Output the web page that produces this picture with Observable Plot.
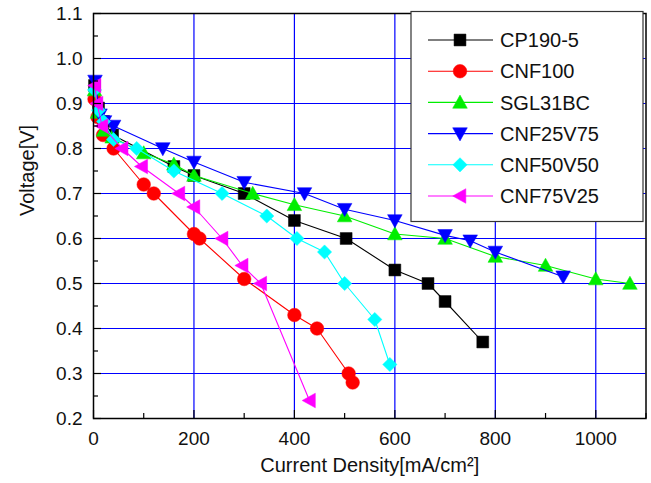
<!DOCTYPE html>
<html><head><meta charset="utf-8">
<script src="https://cdn.jsdelivr.net/npm/d3@7"></script>
<script src="https://cdn.jsdelivr.net/npm/@observablehq/plot@0.6"></script>
<style>body{margin:0;background:#fff}</style>
</head><body><div id="chart"></div>
<script>
// ---- data ----
const seriesNames = ["CP190-5", "CNF100", "SGL31BC", "CNF25V75", "CNF50V50", "CNF75V25"];
const seriesColors = ["#000000", "#ff0000", "#00ee00", "#0000ff", "#00ffff", "#ff00ff"];
const cp190X = [2, 10, 20, 38, 160, 200, 300, 400, 503, 600, 666, 700, 775];
const cp190Y = [0.94, 0.89, 0.86, 0.83, 0.76, 0.74, 0.70, 0.64, 0.60, 0.53, 0.50, 0.46, 0.37];
const cnf100X = [2, 8, 19, 40, 100, 120, 200, 211, 300, 400, 445, 508, 516];
const cnf100Y = [0.91, 0.87, 0.83, 0.80, 0.72, 0.70, 0.61, 0.60, 0.51, 0.43, 0.40, 0.30, 0.28];
const sglX = [2, 8, 20, 37, 100, 160, 200, 317, 400, 500, 600, 700, 800, 900, 1000, 1068];
const sglY = [0.93, 0.88, 0.84, 0.825, 0.79, 0.765, 0.74, 0.70, 0.675, 0.65, 0.61, 0.60, 0.56, 0.54, 0.51, 0.50];
const cnf25X = [3, 13, 22, 40, 138, 200, 300, 420, 500, 600, 700, 750, 800, 935];
const cnf25Y = [0.95, 0.875, 0.86, 0.85, 0.80, 0.77, 0.725, 0.70, 0.665, 0.64, 0.607, 0.595, 0.57, 0.515];
const cnf50X = [2, 10, 20, 40, 86, 160, 256, 345, 405, 460, 500, 560, 590];
const cnf50Y = [0.93, 0.885, 0.86, 0.82, 0.80, 0.75, 0.70, 0.65, 0.60, 0.57, 0.50, 0.42, 0.32];
const cnf75X = [3, 7, 17, 57, 96, 170, 200, 256, 296, 333, 430];
const cnf75Y = [0.94, 0.90, 0.85, 0.80, 0.76, 0.70, 0.67, 0.60, 0.54, 0.50, 0.24];
const xTicks = [0, 200, 400, 600, 800, 1000];
const xMinor = [100, 300, 500, 700, 900, 1100];
const yTicks = [0.2, 0.3, 0.4, 0.5, 0.6, 0.7, 0.8, 0.9, 1.0, 1.1];
const yMinor = [0.25, 0.35, 0.45, 0.55, 0.65, 0.75, 0.85, 0.95, 1.05];
const xGrid = [200, 400, 600, 800, 1000];
const yGrid = [0.3, 0.4, 0.5, 0.6, 0.7, 0.8, 0.9, 1.0];

const allX = [cp190X, cnf100X, sglX, cnf25X, cnf50X, cnf75X];
const allY = [cp190Y, cnf100Y, sglY, cnf25Y, cnf50Y, cnf75Y];

// ---- custom symbols ----
const triUp = {draw(c, size) { const a = Math.sqrt(size / Math.PI); c.moveTo(0, -a); c.lineTo(a, a * 0.8); c.lineTo(-a, a * 0.8); c.closePath(); }};
const triDown = {draw(c, size) { const a = Math.sqrt(size / Math.PI); c.moveTo(0, a); c.lineTo(a, -a * 0.8); c.lineTo(-a, -a * 0.8); c.closePath(); }};
const triLeft = {draw(c, size) { const a = Math.sqrt(size / Math.PI); c.moveTo(-a, 0); c.lineTo(a * 0.8, -a); c.lineTo(a * 0.8, a); c.closePath(); }};
const symbols = ["square", "circle", triUp, triDown, "diamond2", triLeft];
const radii = [6.7, 6.8, 7.3, 7.3, 6.4, 7.3];

const W = 651, H = 483, mL = 93, mR = 5.5, mT = 13, mB = 65;
const plotW = W - mL - mR, plotH = H - mT - mB;
const font = "'Liberation Sans', Arial, sans-serif";

const series = seriesNames.map((name, i) => allX[i].map((x, j) => ({name, x, y: allY[i][j]})));

const marks = [
  Plot.gridX(xGrid, {stroke: "#0000ff", strokeOpacity: 1, strokeWidth: 1.2}),
  Plot.gridY(yGrid, {stroke: "#0000ff", strokeOpacity: 1, strokeWidth: 1.2}),
];
series.forEach((d, i) => {
  marks.push(Plot.line(d, {x: "x", y: "y", stroke: seriesColors[i], strokeWidth: 1.1}));
  marks.push(Plot.dot(d, {x: "x", y: "y", symbol: () => symbols[i], r: radii[i], fill: seriesColors[i], stroke: seriesColors[i], strokeWidth: 0.5}));
});
marks.push(
  Plot.frame({stroke: "#000", strokeWidth: 1.5}),
  Plot.tickX(xTicks, {x: d => d, stroke: "#000", strokeWidth: 1.2, insetTop: plotH - 8}),
  Plot.tickX(xMinor, {x: d => d, stroke: "#000", strokeWidth: 1.2, insetTop: plotH - 5}),
  Plot.tickY(yTicks, {y: d => d, stroke: "#000", strokeWidth: 1.2, insetRight: plotW - 8}),
  Plot.tickY(yMinor, {y: d => d, stroke: "#000", strokeWidth: 1.2, insetRight: plotW - 5}),
  Plot.axisX({ticks: xTicks, tickSize: 0, tickPadding: 13, tickFormat: d => String(d), fontSize: 19, label: null}),
  Plot.axisY({ticks: yTicks, tickSize: 0, tickPadding: 11, tickFormat: d3.format(".1f"), fontSize: 19, label: null}),
  Plot.text(["Current Density[mA/cm²]"], {frameAnchor: "bottom", dy: 53, fontSize: 20, fill: "#111"}),
  Plot.text(["Voltage[V]"], {frameAnchor: "left", dx: -66, rotate: -90, fontSize: 20, fill: "#111"})
);

const chart = Plot.plot({
  width: W, height: H,
  marginLeft: mL, marginRight: mR, marginTop: mT, marginBottom: mB,
  style: {fontFamily: font, fontSize: "19px", background: "#fff", color: "#111"},
  x: {domain: [0, 1100], axis: null},
  y: {domain: [0.2, 1.1], axis: null},
  symbol: {type: "identity"},
  marks
});
document.getElementById("chart").appendChild(chart);

// ---- legend ----
const svg = d3.select(chart);
const lg = svg.append("g").attr("font-family", font).attr("text-anchor", "start");
lg.append("rect").attr("x", 411).attr("y", 11.5).attr("width", 232).attr("height", 210)
  .attr("fill", "#fff").attr("stroke", "#333").attr("stroke-width", 1.2);
seriesNames.forEach((name, i) => {
  const y = 40 + i * 31.2;
  lg.append("line").attr("x1", 428).attr("x2", 493).attr("y1", y).attr("y2", y)
    .attr("stroke", seriesColors[i]).attr("stroke-width", 1.1);
  const sym = typeof symbols[i] === "string" ? (symbols[i] === "square" ? d3.symbolSquare : symbols[i] === "circle" ? d3.symbolCircle : d3.symbolDiamond2) : symbols[i];
  lg.append("path").attr("transform", `translate(460,${y})`)
    .attr("d", d3.symbol(sym, Math.PI * radii[i] * radii[i])())
    .attr("fill", seriesColors[i]).attr("stroke", seriesColors[i]).attr("stroke-width", 0.5);
  lg.append("text").attr("x", 500).attr("y", y).attr("dy", "0.36em")
    .attr("text-anchor", "start").attr("font-size", 20).attr("fill", "#111").text(name);
});
</script></body></html>
